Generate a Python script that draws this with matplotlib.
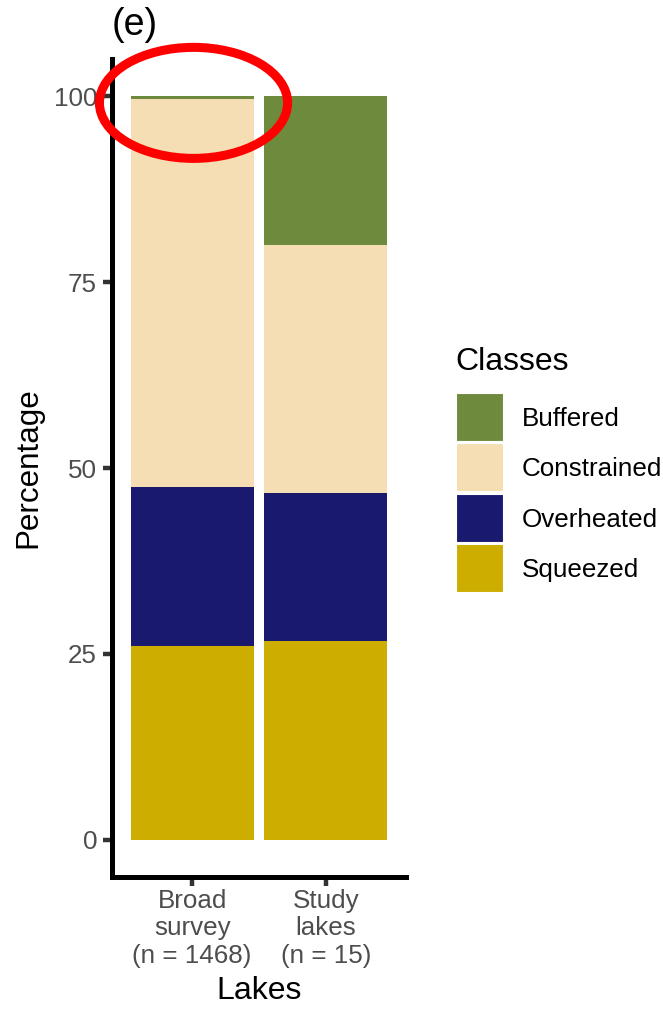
import matplotlib
matplotlib.use("Agg")
import matplotlib.pyplot as plt
from matplotlib.patches import Patch, Ellipse, Rectangle
from matplotlib.legend_handler import HandlerPatch

plt.rcParams['font.family'] = ['Liberation Sans', 'DejaVu Sans']

# lake groups and class shares (%)
groups = ["Broad\nsurvey\n(n = 1468)", "Study\nlakes\n(n = 15)"]
classes = ["Squeezed", "Overheated", "Constrained", "Buffered"]
squeezed = [26.0, 26.67]
overheated = [21.5, 20.0]
constrained = [52.1, 33.33]
buffered = [0.4, 20.0]
colors = {"Buffered": "#6E8B3D", "Constrained": "#F5DEB3",
          "Overheated": "#191970", "Squeezed": "#CDAD00"}

W, H = 663, 1010
fig = plt.figure(figsize=(W / 100, H / 100), dpi=100)
ax = fig.add_axes([112 / W, (H - 877) / H, (406 - 112) / W, (877 - 59) / H])

xpos = [1, 2]
bottom = [0.0, 0.0]
for name, vals in zip(classes, [squeezed, overheated, constrained, buffered]):
    ax.bar(xpos, vals, width=0.92, bottom=bottom, color=colors[name],
           linewidth=0, zorder=2)
    bottom = [b + v for b, v in zip(bottom, vals)]

ax.set_xlim(0.4, 2.6)
ax.set_ylim(-5, 105)
ax.set_xticks(xpos)
ax.set_xticklabels(groups, linespacing=1.2)
ax.set_yticks([0, 25, 50, 75, 100])

for side in ["top", "right"]:
    ax.spines[side].set_visible(False)
for side in ["left", "bottom"]:
    ax.spines[side].set_linewidth(3.6)
    ax.spines[side].set_color("black")
    ax.spines[side].set_capstyle("projecting")

ax.tick_params(axis="both", length=6.8, width=3.2, color="#333333",
               labelcolor="#4D4D4D", labelsize=18.7)
ax.tick_params(axis="y", pad=4)
ax.tick_params(axis="x", pad=1.5)

ax.set_xlabel("Lakes", fontsize=23, color="black")
ax.set_ylabel("Percentage", fontsize=22.6, color="black")
ax.xaxis.set_label_coords(0.5, -0.121)
ax.yaxis.set_label_coords(-0.232, 0.5)

fig.text(112 / W, 1 - 35 / H, "(e)", fontsize=27, ha="left", va="baseline")

# highlight around the thin buffered slice
ax.add_patch(Ellipse((1.01, 99.1), 1.408, 14.93, fill=False, edgecolor="red",
                     linewidth=6.5, clip_on=False, zorder=5))


# square legend keys, centred on the label text
def big_key(legend, orig_handle, xdescent, ydescent, width, height, fontsize):
    key_h = 34.4
    mid = 0.358 * fontsize
    return Rectangle((-xdescent, mid - key_h / 2), width, key_h)


order = ["Buffered", "Constrained", "Overheated", "Squeezed"]
handles = [Patch(facecolor=colors[c], edgecolor="white", linewidth=0.8, label=c)
           for c in order]
fig.legend(handles=handles, loc="upper left",
           bbox_to_anchor=(456 / W, 1 - 407 / H), frameon=False,
           fontsize=18.7, handlelength=1.81, handleheight=0.7,
           labelspacing=1.02, handletextpad=0.72, borderpad=0,
           borderaxespad=0,
           handler_map={Patch: HandlerPatch(patch_func=big_key)})
fig.text(455 / W, 1 - 370 / H, "Classes", fontsize=23, ha="left",
         va="baseline")

fig.savefig("out.png", dpi=100)
